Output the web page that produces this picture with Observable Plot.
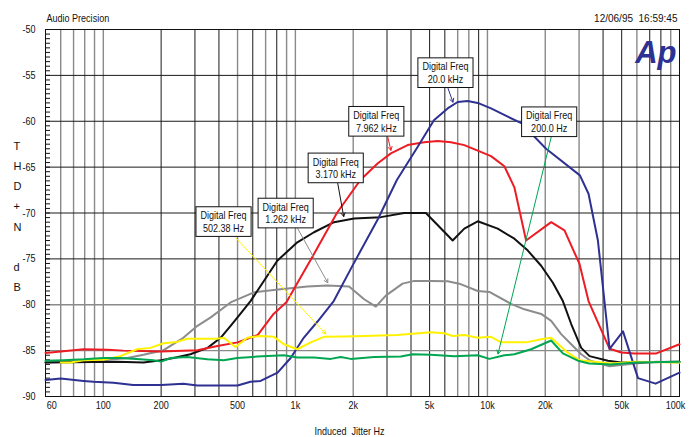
<!DOCTYPE html>
<html>
<head>
<meta charset="utf-8">
<script src="https://cdn.jsdelivr.net/npm/d3@7"></script>
<script src="https://cdn.jsdelivr.net/npm/@observablehq/plot@0.6"></script>
<style>
  html, body { margin: 0; padding: 0; background: #fff; }
  svg { display: block; }
</style>
</head>
<body>
<script>
// ---------- data (frequency Hz, THD+N dB) ----------
const seriesDigital20k = [[50,-88.2],[60,-88.05],[79,-88.3],[89,-88.4],[113,-88.5],[143,-88.75],[200,-88.75],[261,-88.6],[309,-88.8],[500,-88.8],[584,-88.4],[659,-88.3],[808,-87.4],[945,-85.8],[1105,-83.6],[1307,-81.8],[1584,-79.6],[2000,-75.6],[2700,-70.6],[3376,-66.4],[4328,-62.8],[5263,-59.9],[6205,-58.6],[7000,-57.9],[7890,-57.8],[8900,-58.0],[10440,-58.6],[12760,-59.5],[15000,-60.2],[20200,-63.0],[30300,-65.9],[33600,-67.9],[37600,-73.0],[43250,-84.8],[50800,-82.9],[60800,-88.0],[75100,-88.6],[100000,-87.4]];
const seriesDigital7962 = [[50,-85.25],[79,-84.86],[105,-84.9],[127,-85.0],[200,-85.1],[309,-84.97],[393,-84.5],[500,-84.1],[636,-83.3],[770,-81.0],[900,-79.7],[1000,-78.0],[1202,-75.1],[1645,-70.0],[2180,-66.4],[2678,-64.6],[3142,-63.5],[3840,-62.6],[4685,-62.3],[5505,-62.15],[6457,-62.3],[7577,-62.6],[8900,-63.2],[10440,-63.8],[12250,-64.9],[13810,-67.2],[15890,-73.0],[21470,-71.0],[25180,-71.9],[30160,-75.55],[33600,-79.6],[43250,-84.8],[49770,-85.2],[58400,-85.3],[75760,-85.3],[100000,-84.3]];
const seriesDigital3170 = [[50,-86.3],[118,-86.2],[162,-86.3],[200,-86.05],[232,-85.8],[284,-85.4],[349,-84.7],[408,-83.6],[460,-82.3],[517,-81.0],[584,-79.6],[633,-78.5],[805,-75.2],[1024,-73.2],[1250,-72.1],[1590,-71.0],[2022,-70.6],[2786,-70.45],[3685,-70.0],[4782,-70.0],[6591,-73.0],[7577,-71.7],[8900,-70.9],[11310,-71.7],[13810,-72.8],[16230,-74.1],[19040,-75.75],[21910,-77.6],[24700,-79.6],[27300,-82.1],[30780,-84.7],[34000,-85.6],[42420,-86.1],[49770,-86.3],[100000,-86.2]];
const seriesDigital1262 = [[50,-86.3],[100,-86.05],[133.5,-85.8],[162,-85.45],[206,-84.95],[261,-83.6],[309,-82.3],[361,-81.4],[460,-79.75],[608,-78.65],[838,-78.3],[1155,-78.0],[1468,-77.9],[1904,-78.0],[2280,-79.4],[2624,-80.2],[2957,-79.0],[3615,-77.7],[4160,-77.4],[5077,-77.4],[6205,-77.45],[7135,-77.7],[8900,-78.5],[10230,-78.6],[13270,-79.9],[15580,-80.5],[19040,-81.0],[21470,-81.75],[24200,-83.2],[27300,-84.3],[30780,-85.4],[34380,-86.1],[43250,-86.7],[58400,-86.4],[75760,-86.2],[100000,-86.3]];
const seriesDigital502 = [[60,-86.3],[67.5,-86.3],[79,-86.05],[100,-86.0],[122.6,-85.6],[150,-84.85],[176,-84.7],[206,-84.2],[242,-84.05],[273,-83.7],[320,-83.7],[392,-83.7],[424,-83.6],[488,-84.6],[562,-83.6],[659,-83.4],[773,-83.5],[872,-84.3],[1024,-84.85],[1202,-84.1],[1410,-83.5],[1792,-83.45],[2280,-83.4],[3376,-83.3],[5077,-83.0],[5957,-83.1],[6591,-83.4],[7577,-83.3],[8900,-83.6],[10440,-83.5],[11770,-84.1],[15890,-84.1],[19040,-83.75],[21470,-83.6],[26090,-85.2],[30160,-86.05],[43920,-86.4],[58400,-86.2],[100000,-86.3]];
const seriesDigital200 = [[50,-86.1],[62,-86.05],[79,-85.95],[100,-85.8],[122.6,-85.8],[155.7,-85.95],[182,-86.05],[200,-86.2],[224,-85.8],[273,-85.7],[348,-85.95],[424,-86.05],[498,-85.8],[633,-85.65],[872,-85.5],[1024,-85.75],[1250,-85.75],[1528,-85.9],[1722,-85.7],[1943,-85.9],[2570,-85.7],[3543,-85.65],[4077,-85.4],[5077,-85.45],[6720,-85.6],[8900,-85.5],[10230,-85.9],[12250,-85.5],[13810,-85.4],[16880,-84.85],[21470,-83.9],[24700,-85.3],[29590,-86.1],[33870,-86.4],[43920,-86.5],[58400,-86.3],[100000,-86.2]];

// annotation labels: box centre (Hz, dB), arrow from -> to (Hz, dB)
const annotationLabels = ["Digital Freq\n502.38 Hz","Digital Freq\n1.262 kHz","Digital Freq\n3.170 kHz","Digital Freq\n7.962 kHz","Digital Freq\n20.0 kHz","Digital Freq\n200.0 Hz"];
const annotationBoxHz = [422.6, 890, 1622, 2639, 6045, 20960];
const annotationBoxDb = [-70.93, -70.0, -65.08, -60.0, -54.7, -60.05];
const arrowFromHz = [488, 1028, 1662, 3030, 6229, 21470];
const arrowFromDb = [-72.68, -71.69, -66.78, -61.75, -56.39, -61.75];
const arrowToHz = [1439, 1474, 1785, 3142, 6614, 11350];
const arrowToDb = [-83.17, -77.6, -70.38, -63.17, -57.92, -85.36];

// axes
const xTickValues = [60, 100, 200, 500, 1000, 2000, 5000, 10000, 20000, 50000, 100000];
const xTickLabels = ["60", "100", "200", "500", "1k", "2k", "5k", "10k", "20k", "50k", "100k"];
const xGridValues = [60,70,80,90,100,200,300,400,500,600,700,800,900,1000,2000,3000,4000,5000,6000,7000,8000,9000,10000,20000,30000,40000,50000,60000,70000,80000,90000];
const yTickValues = [-50,-55,-60,-65,-70,-75,-80,-85,-90];
const yGridValues = [-55,-60,-65,-70,-75,-80,-85];
const titleText = "Audio Precision";
const dateText = "12/06/95  16:59:45";
const xTitle = "Induced  Jitter Hz";
const yTitleLetters = ["T","H","D","+","N","","d","B"];

// ---------- styles ----------
const FONT = "'Liberation Sans', Arial, sans-serif";
const C = {blue: "#2e3192", red: "#ed1c24", black: "#111111", gray: "#8c8c8c", yellow: "#fff200", green: "#00a651"};
const annotationColors = [C.yellow, "#8c8c8c", C.black, C.red, C.blue, C.green];
const grayGridX = new Set([60,70,80,90,100,500,700,900,1000,2000,7000,8000,10000,20000,30000,60000,90000]);
const grayGridY = new Set([-80,-85]);
const FS = 11;
const CONDENSE = 0.82;

const ann = annotationLabels.map((label, i) => ({
  label, x: annotationBoxHz[i], y: annotationBoxDb[i],
  x1: arrowFromHz[i], y1: arrowFromDb[i], x2: arrowToHz[i], y2: arrowToDb[i],
  color: annotationColors[i]
}));
const xTicks = xTickValues.map((v, i) => ({v, label: xTickLabels[i]}));
const yMinor = d3.range(-90, -49.9, 0.5);
const dateLabel = dateText.replace("  ", "\u00a0 ");

const line = (data, color) => Plot.line(data, {x: d => d[0], y: d => d[1], stroke: color, strokeWidth: 2, strokeLinejoin: "round", strokeLinecap: "round"});

const chart = Plot.plot({
  width: 691,
  height: 437,
  marginLeft: 45,
  marginRight: 12,
  marginTop: 29,
  marginBottom: 41,
  style: {fontFamily: FONT, fontSize: FS + "px", background: "#fff", color: "#111"},
  x: {type: "log", domain: [50, 100000], axis: null},
  y: {domain: [-90, -50], axis: null},
  marks: [
    // grid
    Plot.ruleX(xGridValues, {x: d => d, stroke: d => grayGridX.has(d) ? "#8a8a8a" : "#1a1a1a", strokeWidth: d => grayGridX.has(d) ? 1.4 : 1}),
    Plot.ruleY(yGridValues, {y: d => d, stroke: d => grayGridY.has(d) ? "#8a8a8a" : "#1a1a1a", strokeWidth: d => grayGridY.has(d) ? 1.4 : 1}),
    // minor y ticks inside the frame
    Plot.axisY({ticks: yMinor, tickSize: 5, dx: 5, tickFormat: () => "", stroke: "#111"}),
    // y labels
    Plot.axisY({ticks: yTickValues, tickSize: 0, tickPadding: 10, tickFormat: d => String(d), fontSize: FS, fill: "#111"}),
    Plot.frame({stroke: "#111", strokeWidth: 1}),
    // curves
    line(seriesDigital1262, C.gray),
    line(seriesDigital3170, C.black),
    line(seriesDigital7962, C.red),
    line(seriesDigital20k, C.blue),
    line(seriesDigital502, C.yellow),
    line(seriesDigital200, C.green),
    // annotation arrows
    Plot.arrow(ann, {x1: "x1", y1: "y1", x2: "x2", y2: "y2", stroke: "color", strokeWidth: 1, headLength: 6}),
    // annotation text (boxes added after render)
    Plot.text(ann, {x: "x", y: "y", text: "label", fontSize: FS, lineHeight: 1.15, fill: "#111"}),
    // x tick labels
    Plot.text(xTicks.filter(d => d.v !== 60 && d.v !== 100000), {x: "v", text: "label", frameAnchor: "bottom", dy: 9, lineAnchor: "middle", fontSize: FS, fill: "#111"}),
    Plot.text(xTicks.filter(d => d.v === 60), {x: "v", text: "label", frameAnchor: "bottom", dy: 9, dx: -9, lineAnchor: "middle", fontSize: FS, fill: "#111"}),
    Plot.text(xTicks.filter(d => d.v === 100000), {x: "v", text: "label", frameAnchor: "bottom", dy: 9, dx: -4, lineAnchor: "middle", fontSize: FS, fill: "#111"}),
    // titles
    Plot.text([titleText], {frameAnchor: "top-left", textAnchor: "start", lineAnchor: "bottom", dx: 1, dy: -8, fontSize: FS, fill: "#111"}),
    Plot.text([dateLabel], {frameAnchor: "top-right", textAnchor: "end", lineAnchor: "bottom", dx: -2, dy: -8, fontSize: 10, fill: "#111", style: "letter-spacing:-0.5px"}),
    Plot.text([xTitle.replace("  ", "\u00a0 ")], {frameAnchor: "bottom", lineAnchor: "middle", dx: -13, dy: 35, fontSize: FS, fill: "#111"}),
    Plot.text([yTitleLetters.join("\n")], {frameAnchor: "left", lineAnchor: "middle", dx: -32, dy: 1, lineHeight: 1.83, fontSize: FS, fill: "#111"}),
    // logo
    Plot.text(["Ap"], {frameAnchor: "top-right", textAnchor: "end", lineAnchor: "bottom", dx: -3, dy: 33, fontSize: 31, fontWeight: "bold", fontStyle: "italic", fill: C.blue, style: "letter-spacing:-3px"})
  ]
});
document.body.append(chart);

// condensed (narrow) lettering for the instrument-style labels;
// single-line texts are re-anchored at their start so their extent stays exact
const skip = new Set(["Ap", yTitleLetters.join(""), dateLabel]);
const condense = el => {
  const len = el.getComputedTextLength();
  if (len > 0) {
    el.setAttribute("textLength", (len * CONDENSE).toFixed(2));
    el.setAttribute("lengthAdjust", "spacingAndGlyphs");
  }
  return len * CONDENSE;
};
chart.querySelectorAll("text").forEach(t => {
  if (skip.has(t.textContent)) return;
  const spans = t.querySelectorAll("tspan");
  if (spans.length) { spans.forEach(condense); return; }
  const anchor = getComputedStyle(t).textAnchor;
  const w = condense(t);
  const x0 = +(t.getAttribute("x") || 0);
  const shift = anchor === "end" ? w : anchor === "middle" ? w / 2 : 0;
  t.setAttribute("text-anchor", "start");
  t.setAttribute("x", (x0 - shift).toFixed(2));
});

// white boxes behind annotation texts
const NS = "http://www.w3.org/2000/svg";
chart.querySelectorAll("text").forEach(t => {
  if (!t.textContent.startsWith("Digital Freq")) return;
  const b = t.getBBox();
  const r = document.createElementNS(NS, "rect");
  r.setAttribute("x", b.x - 4.5);
  r.setAttribute("y", b.y - 2.5);
  r.setAttribute("width", b.width + 9);
  r.setAttribute("height", b.height + 5);
  r.setAttribute("fill", "#fff");
  r.setAttribute("stroke", "#111");
  r.setAttribute("stroke-width", 1);
  if (t.getAttribute("transform")) r.setAttribute("transform", t.getAttribute("transform"));
  t.parentNode.insertBefore(r, t);
});
</script>
</body>
</html>
